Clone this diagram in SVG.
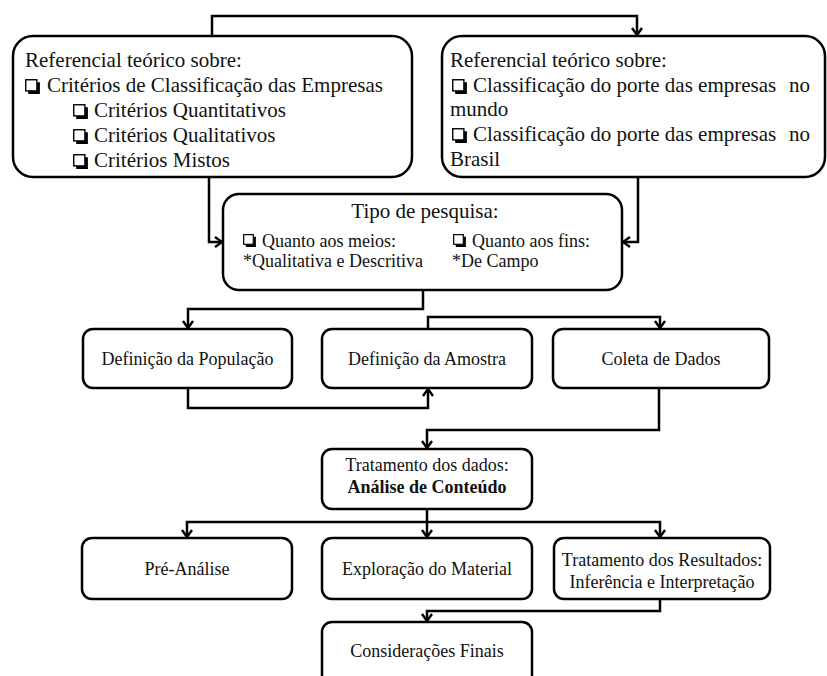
<svg xmlns="http://www.w3.org/2000/svg" width="827" height="676" viewBox="0 0 827 676">
  <style>
    .box { fill: #fff; stroke: #000; stroke-width: 2.5; }
    .t { font-family: "Liberation Serif", "Times New Roman", serif; fill: #111; }
    .big { font-size: 21px; }
    .mid { font-size: 18px; }
    .c { text-anchor: middle; }
    .b { font-weight: bold; }
    .link { fill: none; stroke: #000; stroke-width: 2.5; stroke-linejoin: miter; }
  </style>
  <defs>
    <marker id="arrow" markerUnits="userSpaceOnUse" viewBox="-10 -7 12 14" markerWidth="12" markerHeight="14" refX="0" refY="0" orient="auto">
      <path d="M-7,-5 L0,0 L-7,5" fill="none" stroke="#000" stroke-width="2.4"/>
    </marker>
    <!-- checkbox bullet: white square with a drop shadow on right and bottom -->
    <symbol id="cb" viewBox="0 0 14 14">
      <path d="M3,12.6 H12.6 V3" fill="none" stroke="#000" stroke-width="2.6"/>
      <rect x="0.7" y="0.7" width="10.4" height="10.4" fill="#fff" stroke="#000" stroke-width="1.3"/>
    </symbol>
  </defs>

  <!-- connectors -->
  <g id="connectors">
    <path class="link" d="M212,36 V16 H637 V35" marker-end="url(#arrow)"/>
    <path class="link" d="M209,177 V242 H222" marker-end="url(#arrow)"/>
    <path class="link" d="M638,177 V242 H623" marker-end="url(#arrow)"/>
    <path class="link" d="M423,290 V309 H188 V328" marker-end="url(#arrow)"/>
    <path class="link" d="M428,329 V317 H660 V328" marker-end="url(#arrow)"/>
    <path class="link" d="M188,388 V408 H428 V389" marker-end="url(#arrow)"/>
    <path class="link" d="M659,388 V430 H427 V448" marker-end="url(#arrow)"/>
    <path class="link" d="M427,509 V537" marker-end="url(#arrow)"/>
    <path class="link" d="M427,522 H187 V537" marker-end="url(#arrow)"/>
    <path class="link" d="M427,522 H660 V537" marker-end="url(#arrow)"/>
    <path class="link" d="M660,599 V611 H427 V621" marker-end="url(#arrow)"/>
  </g>

  <g id="ref-criterios">
    <rect class="box" x="13" y="36" width="399" height="141" rx="20"/>
    <text class="t big" x="25" y="67">Referencial teórico sobre:</text>
    <use href="#cb" x="25" y="79" width="15" height="15"/>
    <text class="t big" x="47" y="92">Critérios de Classificação das Empresas</text>
    <use href="#cb" x="73" y="104" width="15" height="15"/>
    <text class="t big" x="94" y="117">Critérios Quantitativos</text>
    <use href="#cb" x="73" y="129" width="15" height="15"/>
    <text class="t big" x="94" y="142">Critérios Qualitativos</text>
    <use href="#cb" x="73" y="154" width="15" height="15"/>
    <text class="t big" x="94" y="167">Critérios Mistos</text>
  </g>

  <g id="ref-porte">
    <rect class="box" x="442" y="36" width="383" height="141" rx="20"/>
    <text class="t big" x="450" y="67">Referencial teórico sobre:</text>
    <use href="#cb" x="452" y="79" width="15" height="15"/>
    <text class="t big" x="473" y="92">Classificação do porte das empresas<tspan x="789">no</tspan></text>
    <text class="t big" x="450" y="116">mundo</text>
    <use href="#cb" x="452" y="128" width="15" height="15"/>
    <text class="t big" x="473" y="141">Classificação do porte das empresas<tspan x="789">no</tspan></text>
    <text class="t big" x="450" y="166">Brasil</text>
  </g>

  <g id="tipo-pesquisa">
    <rect class="box" x="223" y="194" width="399" height="96" rx="16"/>
    <text class="t big c" x="425" y="218">Tipo de pesquisa:</text>
    <use href="#cb" x="243" y="234" width="13" height="13"/>
    <text class="t mid" x="262" y="247">Quanto aos meios:</text>
    <use href="#cb" x="453" y="234" width="13" height="13"/>
    <text class="t mid" x="472" y="247">Quanto aos fins:</text>
    <text class="t mid" x="243" y="267">*Qualitativa e Descritiva</text>
    <text class="t mid" x="452" y="267">*De Campo</text>
  </g>

  <g id="def-populacao">
    <rect class="box" x="83" y="329" width="209" height="59" rx="10"/>
    <text class="t mid c" x="187.5" y="365">Definição da População</text>
  </g>

  <g id="def-amostra">
    <rect class="box" x="322" y="329" width="210" height="59" rx="10"/>
    <text class="t mid c" x="427" y="365">Definição da Amostra</text>
  </g>

  <g id="coleta">
    <rect class="box" x="553" y="329" width="216" height="59" rx="10"/>
    <text class="t mid c" x="661" y="365">Coleta de Dados</text>
  </g>

  <g id="tratamento-dados">
    <rect class="box" x="322" y="449" width="210" height="60" rx="10"/>
    <text class="t mid c" x="427" y="471">Tratamento dos dados:</text>
    <text class="t mid c b" x="427" y="493">Análise de Conteúdo</text>
  </g>

  <g id="pre-analise">
    <rect class="box" x="82" y="538" width="210" height="61" rx="10"/>
    <text class="t mid c" x="187" y="575">Pré-Análise</text>
  </g>

  <g id="exploracao">
    <rect class="box" x="322" y="538" width="210" height="61" rx="10"/>
    <text class="t mid c" x="427" y="575">Exploração do Material</text>
  </g>

  <g id="tratamento-resultados">
    <rect class="box" x="554" y="538" width="216" height="61" rx="10"/>
    <text class="t mid c" x="662" y="566">Tratamento dos Resultados:</text>
    <text class="t mid c" x="662" y="588">Inferência e Interpretação</text>
  </g>

  <g id="consideracoes">
    <rect class="box" x="322" y="622" width="210" height="70" rx="10"/>
    <text class="t mid c" x="427" y="657">Considerações Finais</text>
  </g>
</svg>
